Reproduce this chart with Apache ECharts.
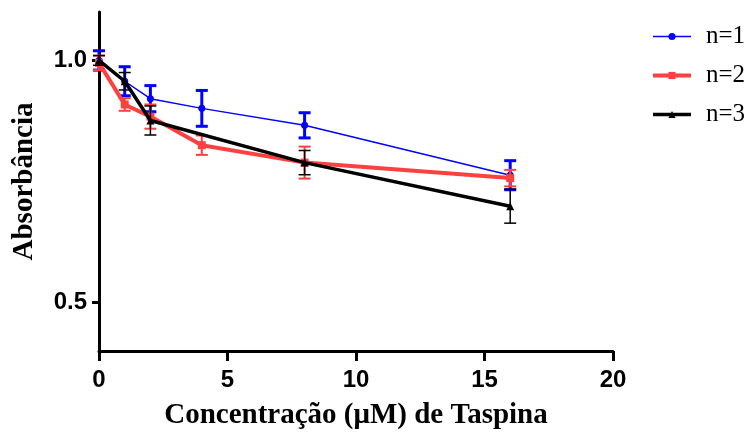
<!DOCTYPE html>
<html>
<head>
<meta charset="utf-8">
<script src="https://cdn.jsdelivr.net/npm/echarts@6/dist/echarts.min.js"></script>
<style>
html,body{margin:0;padding:0;background:#fff;}
#chart{width:753px;height:438px;}
</style>
</head>
<body>
<div id="chart"></div>
<script>
// Data
var seriesNames = ['n=1', 'n=2', 'n=3'];
var xN1 = [0, 1, 2, 4, 8, 16];
var yN1 = [1.0, 0.957, 0.921, 0.901, 0.866, 0.763];
var eN1 = [0.02, 0.03, 0.027, 0.037, 0.026, 0.03];
var xN2 = [0, 1, 2, 4, 8, 16];
var yN2 = [0.995, 0.909, 0.884, 0.825, 0.789, 0.757];
var eN2 = [0.015, 0.013, 0.025, 0.02, 0.033, 0.017];
var xN3 = [0, 1, 2, 8, 16];
var yN3 = [1.0, 0.957, 0.876, 0.789, 0.699];
var eN3 = [0.01, 0.018, 0.03, 0.025, 0.035];
var xTicks = [0, 5, 10, 15, 20];
var yTicks = [0.5, 1.0];
var colors = ['#0000FF', '#FF4040', '#000000'];
var lineWidths = [1.5, 4, 3.5];

function pts(xs, ys) { return xs.map(function (x, i) { return [x, ys[i]]; }); }
function errData(xs, ys, es) { return xs.map(function (x, i) { return [x, ys[i] - es[i], ys[i] + es[i]]; }); }

function errSeries(name, xs, ys, es, color, width, z) {
  return {
    type: 'custom',
    name: name + ' (erro)',
    z: z,
    silent: true,
    data: errData(xs, ys, es),
    renderItem: function (params, api) {
      var x = api.value(0);
      var lo = api.coord([x, api.value(1)]);
      var hi = api.coord([x, api.value(2)]);
      var cw = 6;
      var st = { stroke: color, lineWidth: width };
      return {
        type: 'group',
        children: [
          { type: 'line', shape: { x1: lo[0], y1: lo[1], x2: hi[0], y2: hi[1] }, style: st },
          { type: 'line', shape: { x1: lo[0] - cw, y1: lo[1], x2: lo[0] + cw, y2: lo[1] }, style: st },
          { type: 'line', shape: { x1: hi[0] - cw, y1: hi[1], x2: hi[0] + cw, y2: hi[1] }, style: st }
        ]
      };
    }
  };
}

var chart = echarts.init(document.getElementById('chart'));
var option = {
  animation: false,
  backgroundColor: '#fff',
  grid: { left: 99, right: 140, top: 12, bottom: 87, containLabel: false },
  legend: {
    orient: 'vertical',
    left: 646,
    top: 19,
    itemWidth: 38,
    itemHeight: 9,
    itemGap: 14,
    data: seriesNames.map(function (n, i) {
      return { name: n, lineStyle: { width: lineWidths[i], color: colors[i] } };
    }),
    textStyle: { fontFamily: 'Liberation Serif', fontSize: 25, color: '#000', padding: [0, 0, 0, 10] }
  },
  xAxis: {
    type: 'value',
    min: 0, max: 20, interval: 5,
    name: 'Concentração (μM) de Taspina',
    nameLocation: 'middle',
    nameGap: 50,
    nameTextStyle: { fontFamily: 'Liberation Serif', fontWeight: 'bold', fontSize: 29, color: '#000' },
    axisLine: { lineStyle: { color: '#000', width: 3 } },
    axisTick: { show: true, length: 10, lineStyle: { color: '#000', width: 3 }, customValues: xTicks },
    axisLabel: { customValues: xTicks, margin: 17, fontFamily: 'Liberation Sans', fontWeight: 'bold', fontSize: 24, color: '#000' },
    splitLine: { show: false }
  },
  yAxis: {
    type: 'value',
    min: 0.4, max: 1.1,
    name: 'Absorbância',
    nameLocation: 'middle',
    nameGap: 60,
    nameRotate: 90,
    nameTextStyle: { fontFamily: 'Liberation Serif', fontWeight: 'bold', fontSize: 29, color: '#000' },
    axisLine: { show: true, lineStyle: { color: '#000', width: 3 } },
    axisTick: { show: true, length: 7, lineStyle: { color: '#000', width: 3 }, customValues: yTicks },
    axisLabel: { customValues: yTicks, margin: 12, fontFamily: 'Liberation Sans', fontWeight: 'bold', fontSize: 24, color: '#000',
      formatter: function (v) { return v.toFixed(1); } },
    splitLine: { show: false }
  },
  series: [
    errSeries('n=1', xN1, yN1, eN1, colors[0], 3, 3),
    { type: 'line', name: 'n=1', data: pts(xN1, yN1), z: 4, symbol: 'circle', symbolSize: 7,
      lineStyle: { color: colors[0], width: lineWidths[0] }, itemStyle: { color: colors[0] } },
    errSeries('n=2', xN2, yN2, eN2, colors[1], 2, 5),
    { type: 'line', name: 'n=2', data: pts(xN2, yN2), z: 6, symbol: 'rect', symbolSize: 8,
      lineStyle: { color: colors[1], width: lineWidths[1] }, itemStyle: { color: colors[1] } },
    errSeries('n=3', xN3, yN3, eN3, colors[2], 1.5, 7),
    { type: 'line', name: 'n=3', data: pts(xN3, yN3), z: 8, symbol: 'triangle', symbolSize: 8,
      lineStyle: { color: colors[2], width: lineWidths[2] }, itemStyle: { color: colors[2] } }
  ]
};
chart.setOption(option);
</script>
</body>
</html>
